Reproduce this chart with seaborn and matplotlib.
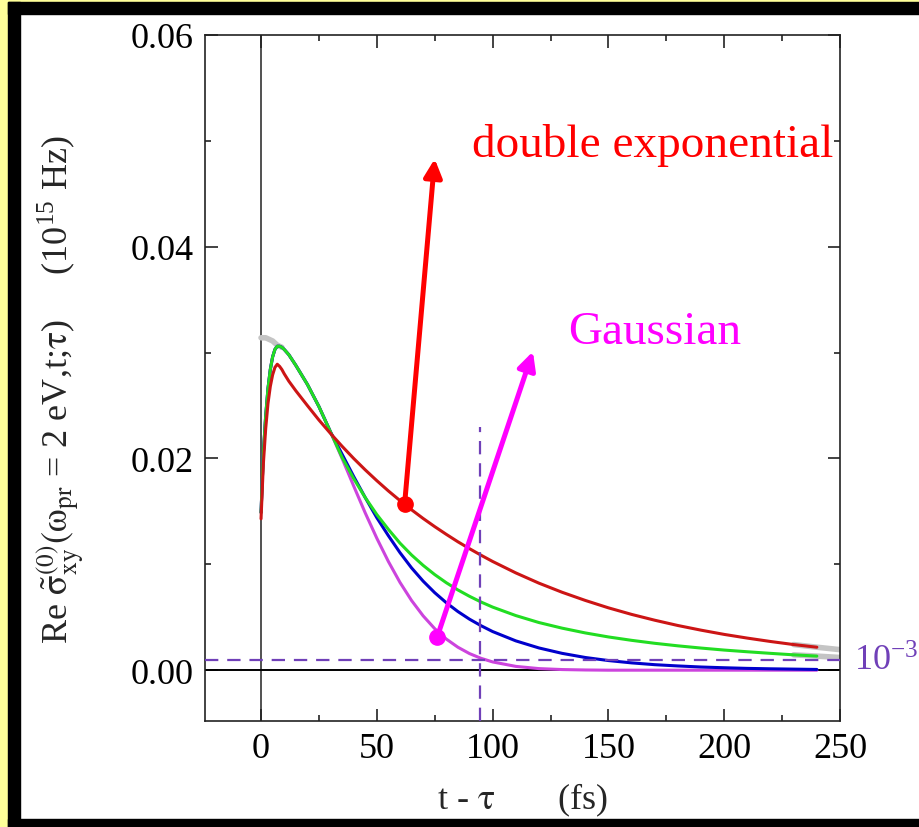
import matplotlib
matplotlib.use("Agg")
import matplotlib.pyplot as plt
from matplotlib.patches import Rectangle
import seaborn as sns
import pandas as pd

# time after pump (fs)
t = [0, 1, 2, 3, 4, 5, 6, 7, 8, 9, 10, 12, 15, 20, 25, 30, 35, 40, 45, 50,
     55, 60, 65, 70, 75, 80, 85, 90, 95, 100, 110, 120, 130, 140, 150, 160,
     170, 180, 190, 200, 210, 220, 230, 240]

# Re sigma_xy (10^15 Hz) for the different pulse envelopes
red = [0.0143, 0.0195, 0.0228, 0.0252, 0.0268, 0.0279, 0.0286, 0.0289, 0.0287,
       0.0284, 0.0280, 0.0273, 0.0264, 0.0250, 0.02363, 0.02236, 0.02115, 0.0200,
       0.01892, 0.0179, 0.01693, 0.01602, 0.01515, 0.01433, 0.01356, 0.01283,
       0.01213, 0.01148, 0.01086, 0.01027, 0.00919, 0.00822, 0.00736, 0.00659,
       0.00589, 0.00527, 0.00472, 0.00422, 0.00378, 0.00338, 0.00303, 0.00271,
       0.00242, 0.00217]
green = [0.0149, 0.0205, 0.0240, 0.0266, 0.0284, 0.0296, 0.0303, 0.0306, 0.0306,
         0.0305, 0.0303, 0.0298, 0.0288, 0.0270, 0.0249, 0.0225, 0.0201, 0.0181,
         0.0163, 0.0147, 0.0133, 0.0120, 0.01088, 0.0099, 0.00903, 0.00826,
         0.00758, 0.00698, 0.00644, 0.00596, 0.00516, 0.0045, 0.00397, 0.00352,
         0.00314, 0.00282, 0.00254, 0.0023, 0.00209, 0.0019, 0.00174, 0.00159,
         0.00145, 0.00133]
blue = [0.0149, 0.0205, 0.0240, 0.0266, 0.0284, 0.0296, 0.0303, 0.0306, 0.0306,
        0.0305, 0.0303, 0.0298, 0.0288, 0.0270, 0.0249, 0.0225, 0.0204, 0.0183,
        0.0163, 0.0144, 0.0127, 0.0111, 0.00966, 0.00841, 0.00732, 0.00637,
        0.00554, 0.00482, 0.0042, 0.00365, 0.00277, 0.0021, 0.00159, 0.0012,
        0.00091, 0.00069, 0.00052, 0.0004, 0.0003, 0.00023, 0.00017, 0.00013,
        0.0001, 0.00007]
magenta = [0.0149, 0.0205, 0.0240, 0.0266, 0.0284, 0.0296, 0.0303, 0.0306, 0.0306,
           0.0305, 0.0303, 0.0298, 0.0288, 0.0270, 0.0249, 0.0225, 0.0200, 0.0174,
           0.01485, 0.01246, 0.01026, 0.00829, 0.00658, 0.00513, 0.00392, 0.00294,
           0.00217, 0.00157, 0.00112, 0.00078, 0.00036, 0.00015, 0.00006, 0.00002,
           0.0, 0.0, 0.0, 0.0, 0.0, 0.0, 0.0, 0.0, 0.0, 0.0]

# instantaneous-response reference curves (grey, underneath)
gray_head_t = [0, 1, 2, 3, 4, 5, 6, 7, 8, 9]
gray_head = [0.0314, 0.0314, 0.0314, 0.0313, 0.0312, 0.0311, 0.0309, 0.0307,
             0.0306, 0.0305]
gray_tail_t = [230, 240, 250]
gray_tail_red = [0.00242, 0.00217, 0.00194]
gray_tail_green = [0.00145, 0.00133, 0.0012]

# threshold markers
threshold = 0.001
t_threshold = 94.6
threshold_top = 0.023

# annotation anchors (t, value)
dexp_point = (62, 0.0157)
dexp_tip = (75, 0.0483)
gauss_point = (76, 0.0031)
gauss_tip = (117.4, 0.0301)

sns.set_style("ticks")
plt.rcParams["font.family"] = ["Liberation Serif", "DejaVu Serif"]
plt.rcParams["mathtext.fontset"] = "stix"

fig = plt.figure(figsize=(9.19, 8.28), dpi=100)
ax = fig.add_axes([205 / 919, 1 - 722 / 828, 635 / 919, 686 / 828])

# frame around the slide
fig.add_artist(Rectangle((0, 0), 8 / 919, 1, transform=fig.transFigure,
                         color="#ffff99", zorder=-5))
fig.add_artist(Rectangle((0, 1 - 3 / 828), 1, 3 / 828, transform=fig.transFigure,
                         color="#ffff99", zorder=-5))
fig.add_artist(Rectangle((8 / 919, 0), 12 / 919, 1 - 3 / 828, transform=fig.transFigure,
                         color="black", zorder=-4))
fig.add_artist(Rectangle((8 / 919, 1 - 15 / 828), 1, 12 / 828, transform=fig.transFigure,
                         color="black", zorder=-4))
fig.add_artist(Rectangle((8 / 919, 0), 1, 8 / 828, transform=fig.transFigure,
                         color="black", zorder=-4))

ax.axvline(0, color="#222222", lw=1.1, zorder=1)
ax.axhline(0, color="black", lw=1.4, zorder=1)

gray_col = "#c4c4c4"
for gt, gv in [(gray_head_t, gray_head), (gray_tail_t, gray_tail_red),
               (gray_tail_t, gray_tail_green)]:
    sns.lineplot(x=gt, y=gv, ax=ax, color=gray_col, lw=4.0,
                 estimator=None, sort=False, zorder=2)

for vals, col in [(magenta, "#cc44dd"), (blue, "#0000cc"),
                  (green, "#22dd22"), (red, "#cc1515")]:
    df = pd.DataFrame({"t": t, "v": vals})
    sns.lineplot(data=df, x="t", y="v", ax=ax, color=col, lw=2.2,
                 estimator=None, sort=False, zorder=3)

dash_col = "#7040b8"
ax.axhline(threshold, color=dash_col, lw=1.6, ls=(0, (6, 4)), zorder=4)
ax.plot([t_threshold, t_threshold], [-0.0048, threshold_top], color=dash_col,
        lw=1.6, ls=(0, (6, 4)), zorder=4)
ax.text(256, threshold, "10$^{\\mathregular{-3}}$", color=dash_col, fontsize=26,
        ha="left", va="center", clip_on=False)

# arrows pointing to the labels
for (p, tip, col) in [(dexp_point, dexp_tip, "#ff0000"),
                      (gauss_point, gauss_tip, "#ff00ff")]:
    ax.annotate("", xy=tip, xytext=p,
                arrowprops=dict(arrowstyle="-|>", color=col, lw=3.6,
                                mutation_scale=27, shrinkA=0, shrinkB=0),
                zorder=6)
    ax.plot([p[0]], [p[1]], "o", color=col, ms=11, zorder=7)

ax.text(91.1, 0.04856, "double exponential", color="#ff0000", fontsize=34,
        ha="left", va="baseline", zorder=6)
ax.text(132.6, 0.0309, "Gaussian", color="#ff00ff", fontsize=34,
        ha="left", va="baseline", zorder=6)

ax.set_xlim(-24.2, 250)
ax.set_ylim(-0.0048, 0.06)
ax.set_xticks([0, 50, 100, 150, 200, 250])
ax.set_xticks([25, 75, 125, 175, 225], minor=True)
ax.set_yticks([0.0, 0.02, 0.04, 0.06])
ax.set_yticks([0.01, 0.03, 0.05], minor=True)
ax.set_yticklabels(["0.00", "0.02", "0.04", "0.06"])
ax.tick_params(which="both", direction="in", top=True, right=True,
               width=1.2, labelsize=26, colors="#222222", labelcolor="black")
ax.tick_params(which="major", length=9, pad=8)
ax.tick_params(which="minor", length=4.5)
for s in ax.spines.values():
    s.set_linewidth(1.2)
    s.set_color("#222222")

ax.set_xlabel("t - $\\mathrm{\\tau}$       (fs)", fontsize=26, labelpad=11)
ax.set_ylabel("Re $\\tilde{\\mathrm{\\sigma}}^{(0)}_{\\mathrm{xy}}"
              "(\\mathrm{\\omega}_{\\mathrm{pr}}$ = 2 eV,t;$\\mathrm{\\tau}$)"
              "     (10$^{\\mathregular{15}}$ Hz)", fontsize=26)
ax.yaxis.set_label_coords(-0.187, 0.484)

fig.savefig("out.png", dpi=100)
